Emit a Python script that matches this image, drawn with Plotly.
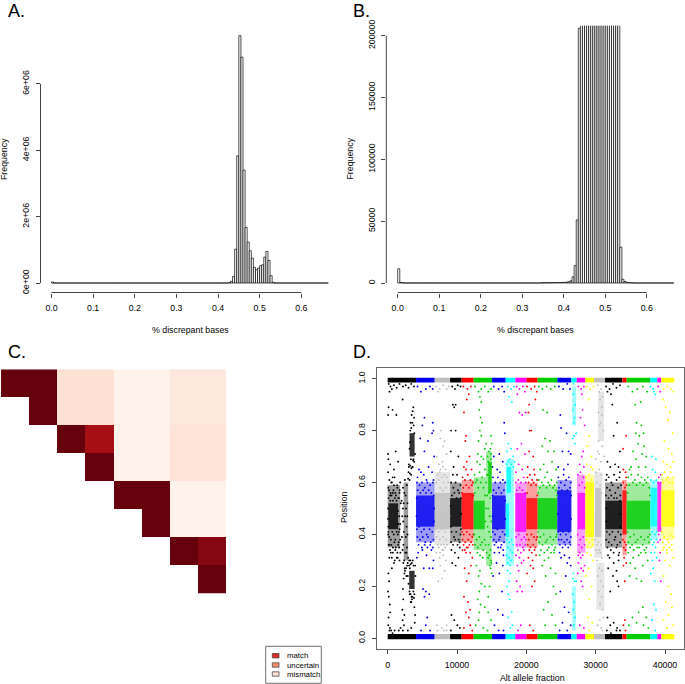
import plotly.graph_objects as go

# ---------- Panels A and B: histogram counts in bins of width 0.005 ----------
bin_width = 0.005
bin_centers = [round(0.0025 + i * bin_width, 4) for i in range(133)]
a_counts = [30000] + [0] * 84 + [
    10000, 50000, 200000, 1020000, 3830000, 7450000, 6800000, 3400000, 1670000,
    1230000, 970000, 750000, 470000, 400000, 450000, 520000, 550000, 780000,
    950000, 680000, 220000, 20000] + [0] * 26
b_counts = [11500, 500, 200] + [0] * 66 + [
    200, 200, 250, 250, 300, 300, 350, 350, 400, 400, 450, 500, 700, 1000,
    1800, 5000, 14000, 51000, 206000, 420000, 610000, 760000, 840000, 900000,
    830000, 720000, 640000, 590000, 560000, 530000, 540000, 560000, 610000,
    650000, 640000, 560000, 460000, 390000, 29000, 3000, 1200, 600, 300, 200,
    100] + [0] * 19
a_ticks = [0.0, 0.1, 0.2, 0.3, 0.4, 0.5, 0.6]
a_yticks = [0, 2000000, 4000000, 6000000]
a_ylabels = ["0e+00", "2e+06", "4e+06", "6e+06"]
b_yticks = [0, 50000, 100000, 150000, 200000]
b_ylabels = ["0", "50000", "100000", "150000", "200000"]

# ---------- Panel C ----------
c_matrix = [
    [1, 1, .12, .12, .02, .02, .08, .08],
    [None, 1, .12, .12, .02, .02, .08, .08],
    [None, None, 1, .875, .02, .02, .11, .11],
    [None, None, None, 1, .02, .02, .11, .11],
    [None, None, None, None, 1, 1, .02, .02],
    [None, None, None, None, None, 1, .02, .02],
    [None, None, None, None, None, None, 1, .94],
    [None, None, None, None, None, None, None, 1],
]
c_colors = ["#fff5f0", "#fee0d2", "#fcbba1", "#fc9272", "#fb6a4a", "#ef3b2c",
            "#cb181d", "#a50f15", "#67000d"]
legend_names = ["match", "uncertain", "mismatch"]
legend_colors = ["#de2d26", "#fc9272", "#fee0d2"]

# ---------- Panel D ----------
seg_start = [0, 4090, 6780, 9000, 10670, 12400, 15050, 17020, 18410, 20000, 21630, 24470,
             26490, 27260, 28510, 29760, 31350, 33850, 34470, 37890, 38900, 39470]
seg_end = [4090, 6780, 9000, 10670, 12400, 15050, 17020, 18410, 20000, 21630, 24470, 26490,
           27260, 28510, 29760, 31350, 33850, 34470, 37890, 38900, 39470, 41350]
seg_color = ["black", "blue", "gray", "black", "red", "green", "blue", "cyan", "magenta", "red", "green", "blue",
             "cyan", "magenta", "yellow", "gray", "black", "red", "green", "cyan", "magenta", "yellow"]

core_start = [100, 3150, 3100, 4090, 6780, 9000, 10670, 12400, 14500, 15050, 17020, 17150, 18410, 20000, 21630, 24470,
              27400, 28510, 29900, 31400, 33850, 34470, 37890, 38900, 39470]
core_end = [1500, 3880, 3880, 6780, 9000, 10670, 12400, 14000, 15000, 17020, 17500, 17800, 20000, 21630, 24470, 26490,
            28510, 29760, 30800, 33850, 34470, 37890, 38900, 39470, 41350]
core_lo = [.42, .70, .19, .43, .42, .43, .42, .42, .56, .42, .39, .56, .41, .42, .42, .41,
           .42, .39, .39, .42, .40, .42, .43, .41, .43]
core_hi = [.52, .79, .26, .55, .56, .54, .56, .53, .68, .55, .52, .66, .56, .54, .54, .57,
           .56, .60, .58, .53, .57, .53, .58, .60, .57]
core_color = ["black", "black", "black", "blue", "gray", "black", "red", "green", "green", "blue", "cyan", "cyan",
              "magenta", "red", "green", "blue", "magenta", "yellow", "gray", "black", "red", "green", "cyan", "magenta", "yellow"]

halo_start = [0, 2300, 4090, 6780, 9000, 10670, 12400, 14200, 15050, 17020, 18410, 20000, 21630, 24470,
              26620, 26620, 27300, 28510, 29800, 30350, 30100, 31350, 33850, 34470, 37890, 39470]
halo_end = [1800, 2950, 6780, 9000, 10670, 12400, 14200, 15000, 17020, 18200, 20000, 21630, 24470, 26490,
            27170, 27120, 28510, 29760, 30950, 31200, 31250, 33850, 34470, 37890, 38900, 41350]
halo_lo = [.35, .30, .37, .36, .37, .37, .34, .28, .37, .28, .35, .35, .36, .36,
           .82, .03, .33, .35, .31, .76, .11, .35, .32, .36, .38, .38]
halo_hi = [.59, .60, .60, .64, .60, .61, .62, .72, .60, .69, .60, .60, .59, .61,
           .97, .20, .63, .63, .64, .95, .29, .60, .61, .60, .61, .62]
halo_color = ["black", "black", "blue", "gray", "black", "red", "green", "green", "blue", "cyan", "magenta", "red", "green", "blue",
              "cyan", "cyan", "magenta", "yellow", "gray", "gray", "gray", "black", "red", "green", "cyan", "yellow"]

black_pts = [
 (60,.86),(130,.89),(700,.88),(1250,.86),(2150,.92),(60,.71),(100,.69),(50,.64),(350,.67),(900,.65),(1500,.68),
 (1150,.72),(720,.62),(3700,.89),(3600,.875),(3450,.86),(3800,.85),(3300,.83),(3550,.83),(3750,.82),(3250,.8),
 (3400,.81),(3850,.79),(3200,.755),(3150,.73),(3050,.67),(3240,.665),(3420,.655),(3600,.66),(3000,.64),(3200,.635),
 (3380,.63),(2950,.615),(3150,.61),(3820,.68),(3660,.685),(3950,.71),(2000,.53),(2850,.52),(2100,.47),(2050,.39),
 (2150,.34),(2700,.33),(2950,.31),(2250,.29),(2800,.28),(2450,.27),(3100,.3),(3300,.285),(3200,.27),(2500,.26),
 (2900,.24),(3000,.21),(3150,.18),(3300,.17),(3450,.16),(3500,.15),(3700,.18),(3850,.17),(3950,.28),(4000,.24),
 (3400,.14),(3600,.3),(2300,.23),(2200,.19),(2250,.15),(2100,.11),(2400,.09),(2150,.07),(2350,.05),(2200,.03),
 (100,.25),(200,.22),(50,.18),(300,.13),(160,.16),(350,.1),(120,.08),(80,.05),(320,.04),(260,.03),(500,.03),(700,.02),
 (1000,.03),(1600,.03),(1850,.04),(2900,.03),(3400,.04),(3900,.06),(3950,.09),(3850,.12),
 (1300,.31),(900,.29),(600,.27),(450,.33),(1700,.3),(1100,.34),(1500,.36),(250,.36),(750,.35),(1800,.38),(100,.41),
 (1600,.41),(1700,.56),(1400,.58),(900,.59),(500,.6),(200,.57),(1100,.56),(1800,.6),(350,.55),(1600,.54),(750,.56),
 (150,.98),(400,.97),(600,.96),(900,.975),(1300,.965),(1700,.98),(2200,.97),(2600,.975),(3000,.965),(3400,.98),(3800,.97),(250,.95),
 (80,.58),(240,.61),(420,.56),(610,.6),(830,.57),(990,.62),(1180,.55),(1360,.59),(1540,.54),(1720,.57),(1880,.52),(130,.54),
 (370,.53),(560,.55),(760,.53),(1030,.54),(1270,.53),(1490,.49),(1650,.47),(1810,.44),(60,.5),(50,.46),(90,.43),(1520,.44),
 (1700,.42),(1460,.4),(70,.4),(210,.39),(450,.38),(660,.41),(880,.4),(1090,.38),(1280,.41),(1570,.37),(140,.36),(330,.34),
 (520,.36),(740,.33),(950,.37),(1170,.35),(1390,.33),(1650,.35),(1820,.33),(230,.31),(600,.31),(1010,.3),(1450,.31),
 (2210,.58),(2480,.61),(2760,.59),(2300,.52),(2580,.55),(2820,.47),(2240,.45),(2520,.47),(2720,.43),(2330,.41),(2610,.39),
 (2850,.4),(2260,.36),(2540,.33),(2790,.35),(2380,.3),(2650,.27),(2880,.29),(2420,.25),(2700,.24),(2400,.56),(2650,.5),(2200,.5),
 (3080,.28),(3260,.3),(3480,.29),(3720,.28),(3180,.17),(3570,.16),(3790,.155),(3330,.14),(3050,.66),(3350,.69),(3720,.69),(3550,.66),
 (9300,.97),(9700,.96),(10100,.975),(10500,.97),(9400,.9),(9600,.89),(9800,.9),(9800,.8),(9150,.8),(9200,.09),(9600,.07),(10050,.05),
 (9100,.72),(9500,.66),(10200,.7),(10000,.63),(9400,.63),(9200,.34),(9700,.33),(10200,.31),(9300,.29),(10400,.35),(9800,.28),(10400,.04),(9100,.03),
 (9150,.6),(9480,.58),(9790,.6),(10130,.57),(10490,.59),(9260,.55),(9620,.56),(9950,.54),(10300,.56),(10560,.54),(9090,.51),(10590,.48),
 (9120,.43),(10560,.42),(9220,.41),(9560,.39),(9880,.41),(10240,.38),(10500,.4),(9130,.37),(9430,.36),(9740,.38),(10080,.36),(10380,.37),
 (31500,.97),(32000,.96),(32500,.98),(33000,.965),(33500,.975),(31700,.95),(32200,.94),(32400,.9),(33100,.83),(32600,.78),(33500,.72),(31700,.68),
 (32100,.66),(32800,.67),(33300,.66),(31600,.63),(33500,.64),(32000,.31),(32600,.29),(33300,.3),(31800,.27),(33000,.26),(32500,.24),(33100,.22),
 (33300,.2),(32100,.18),(31700,.08),(32100,.05),(32600,.06),(33100,.04),(33500,.03),(31600,.03),(32200,.02),(33000,.03),
 (31520,.61),(31880,.62),(32260,.6),(32640,.63),(33020,.61),(33420,.62),(33660,.59),(31640,.58),(32040,.57),(32440,.59),(32830,.56),(33230,.58),
 (33560,.55),(31480,.55),(31850,.54),(32250,.55),(32650,.54),(33050,.54),(33500,.53),(31550,.5),(33450,.48),(31520,.45),(33540,.43),(31620,.41),
 (32010,.4),(32420,.41),(32850,.39),(33250,.41),(33620,.4),(31530,.38),(31900,.37),(32310,.36),(32720,.38),(33130,.36),(33520,.37),(31690,.35),
 (32180,.34),(32590,.33),(33000,.35),(33410,.33),(31780,.32),(33300,.32),
]
blue_pts = [
 (4300,.97),(4800,.95),(5500,.96),(6100,.97),(6500,.96),(5300,.85),(5000,.82),(6500,.83),(6600,.8),(4700,.77),(5300,.72),(5800,.76),
 (6400,.79),(6700,.7),(4500,.65),(4800,.64),(5200,.63),(5900,.66),(6400,.64),(4300,.62),(5600,.61),(6600,.61),(4400,.33),(5000,.34),
 (5600,.32),(6300,.34),(6600,.3),(6500,.27),(5200,.27),(6000,.27),(4200,.31),(5100,.19),(5500,.18),(5300,.16),(6000,.17),(5700,.08),(5500,.05),(6100,.03),(4800,.03),
 (4220,.6),(4580,.59),(4950,.6),(5340,.58),(5720,.6),(6110,.59),(6520,.6),(4330,.57),(4720,.56),(5120,.57),(5510,.56),(5900,.57),(6280,.56),(6650,.55),
 (4180,.54),(6690,.5),(4160,.47),(6680,.45),(4210,.42),(4500,.43),(4870,.41),(5240,.42),(5630,.4),(6030,.42),(6430,.41),(4290,.39),(4650,.38),(5060,.39),
 (5420,.37),(5810,.39),(6220,.37),(6590,.38),(4460,.36),(4930,.35),(5330,.36),(5720,.35),(6130,.36),(6500,.35),
 (15300,.97),(16000,.96),(16500,.97),(16800,.95),(16800,.83),(16900,.79),(15300,.7),(16100,.71),(15800,.65),(16600,.68),(16200,.64),(15100,.66),
 (15400,.33),(16100,.33),(16700,.32),(15700,.29),(16600,.28),(15200,.24),(16100,.25),(16500,.18),(15900,.11),(16600,.09),(15400,.05),(16700,.03),(16000,.03),
 (15180,.62),(15520,.6),(15890,.62),(16240,.6),(16610,.61),(16930,.6),(15280,.57),(15640,.56),(16020,.58),(16390,.56),(16760,.57),(15120,.55),(16950,.53),
 (15130,.47),(16960,.46),(15160,.41),(15480,.4),(15830,.42),(16190,.39),(16570,.41),(16900,.4),(15290,.38),(15660,.37),(16050,.38),(16410,.36),(16780,.37),
 (15400,.36),(15930,.35),(16290,.35),(16660,.34),
 (24700,.97),(25300,.96),(25900,.98),(26300,.96),(24900,.86),(25000,.81),(25800,.79),(26100,.72),(26400,.71),(25200,.72),(24600,.66),(25400,.65),(26000,.67),
 (24800,.33),(25500,.32),(26200,.31),(25000,.31),(25900,.29),(26400,.28),(25700,.24),(24900,.18),(25500,.12),(26100,.1),(25200,.06),(26400,.05),(24800,.03),(25900,.03),
 (24610,.62),(24980,.6),(25370,.63),(25740,.61),(26120,.62),(26430,.6),(24710,.58),(25120,.57),(25530,.59),(25910,.57),(26310,.58),(24560,.56),(26460,.55),
 (24530,.48),(26440,.46),(24590,.41),(24920,.4),(25300,.41),(25710,.4),(26100,.41),(26420,.39),(24680,.38),(25070,.38),(25480,.37),(25860,.38),(26250,.37),
 (24830,.36),(25220,.35),(25620,.36),(26040,.35),(26360,.36),
]
gray_pts = [
 (7000,.97),(7500,.96),(8000,.975),(8500,.96),(8800,.97),(7300,.95),(7700,.8),(8000,.74),(7600,.77),(8200,.76),(7100,.7),(8500,.71),(7900,.68),(7400,.67),
 (7000,.33),(7500,.31),(8000,.32),(8400,.3),(7600,.28),(8200,.26),(7800,.23),(7300,.22),(8500,.05),(7100,.05),(7800,.04),(8100,.03),(8500,.03),(7200,.03),
 (7620,.65),(7980,.66),(8340,.65),(7210,.63),(7500,.64),(7830,.62),(8190,.63),(8560,.62),(7000,.6),(7360,.61),(8040,.6),(8720,.6),(7560,.58),(7950,.57),
 (8400,.58),(6910,.55),(8900,.54),(6880,.48),(8920,.47),(6930,.42),(7350,.41),(7810,.42),(8260,.41),(8720,.43),(7060,.39),(7520,.38),(7970,.39),(8440,.38),
 (7220,.36),(7700,.36),(8120,.36),(8580,.36),(7390,.35),(7880,.34),(8280,.35),(7560,.33),(8020,.34),
 (30300,.975),(30800,.96),(31000,.93),(30500,.95),(30900,.89),(30400,.87),(30700,.83),(31100,.8),(30300,.72),(30500,.71),(31200,.7),(30000,.69),(30100,.34),
 (30300,.33),(30700,.33),(30900,.31),(31100,.08),(30600,.07),(30300,.05),(30800,.04),(31000,.03),(30620,.92),(30880,.86),(30530,.82),(30420,.76),(30980,.74),
 (30750,.68),(30060,.64),(30500,.65),(30850,.63),(30200,.6),(30640,.59),(30860,.56),(29950,.38),(30380,.37),(30790,.36),(30160,.36),(30530,.34),(30220,.3),
 (30540,.27),(30930,.26),(30300,.24),(30750,.22),(31080,.2),(30450,.18),(30880,.16),(30620,.13),(31000,.11),
]
red_pts = [
 (10900,.97),(11500,.96),(12000,.97),(11700,.94),(11400,.92),(11000,.87),(11300,.78),(11200,.76),(11400,.68),(11800,.7),(11000,.66),(11300,.65),(12100,.65),
 (10800,.34),(11300,.33),(11900,.33),(12200,.31),(11100,.27),(11700,.25),(12000,.28),(11400,.22),(11000,.16),(11600,.14),(11900,.11),(11300,.1),(11700,.08),
 (11900,.05),(11000,.04),(12200,.03),(10800,.62),(11140,.61),(11560,.63),(11930,.61),(12280,.6),(10900,.58),(11320,.59),(11700,.58),(12120,.59),(10720,.56),
 (12360,.55),(10710,.41),(12350,.4),(10970,.4),(11400,.41),(11820,.4),(12200,.39),(10800,.38),(11190,.37),(11610,.38),(12030,.37),(10950,.36),(11380,.35),
 (11780,.36),(12270,.36),(11130,.34),(11560,.35),
 (20100,.97),(20700,.96),(21200,.97),(21500,.95),(21300,.92),(20400,.9),(20300,.87),(20500,.8),(20700,.8),(20400,.72),(21000,.7),(20200,.66),(21100,.65),
 (20300,.31),(20900,.3),(21400,.32),(20600,.28),(21000,.27),(20100,.25),(20800,.2),(21200,.22),(20500,.05),(21000,.03),(20150,.62),(20500,.63),(20840,.61),
 (21210,.63),(21530,.61),(20320,.6),(20680,.59),(21050,.6),(21400,.59),(20120,.56),(21580,.55),(20080,.4),(21570,.39),(20360,.38),(20730,.4),(21110,.39),
 (21440,.38),(20210,.36),(20590,.35),(20980,.36),(21300,.35),(20430,.34),(20790,.33),(21180,.34),
 (33950,.73),(34300,.64),(34000,.65),(34400,.62),(34100,.31),(34400,.29),(34000,.28),(34200,.22),(34400,.78),(34200,.07),(34000,.05),(34300,.03),
 (33980,.6),(34230,.58),(34420,.59),(33920,.38),(34180,.37),(34390,.36),(34050,.35),(34310,.34),
]
green_pts = [
 (12600,.97),(13100,.95),(13500,.96),(14000,.97),(14500,.95),(14900,.96),(13300,.93),(13500,.91),(13200,.88),(13400,.85),(13600,.83),(13300,.8),(13500,.78),
 (13100,.76),(14900,.78),(15000,.75),(14800,.73),(14200,.75),(13000,.71),(13500,.7),(14000,.73),(13300,.67),(12900,.68),(13800,.69),(14400,.7),(14900,.71),
 (12800,.28),(13300,.26),(13100,.24),(13500,.21),(13200,.18),(13000,.15),(13400,.13),(13200,.1),(14000,.12),(14500,.1),(14900,.07),(13100,.07),(12700,.05),
 (13800,.04),(14400,.03),(15000,.25),(14700,.2),(14000,.2),(14500,.16),(12520,.63),(12870,.61),(13240,.64),(13620,.62),(14020,.65),(14310,.63),(12680,.6),
 (13050,.58),(13430,.6),(13810,.58),(14180,.6),(12560,.56),(14040,.55),(14350,.55),(14500,.5),(14700,.47),(14950,.45),(14800,.54),(14600,.56),(14200,.5),
 (14100,.45),(14400,.43),(14640,.41),(14880,.39),(12480,.4),(12830,.38),(13210,.39),(13600,.37),(13980,.38),(12610,.36),(13000,.35),(13390,.36),(13780,.34),
 (14150,.36),(12940,.33),(13320,.32),(13700,.31),(14250,.33),(14560,.36),(14820,.34),(14670,.32),(14900,.3),(14720,.28),(14950,.29),(14500,.31),(14830,.27),
 (14620,.72),(14880,.69),(14700,.67),(14950,.66),(14500,.68),(14430,.63),
 (21800,.97),(22300,.96),(22900,.97),(23500,.96),(24100,.97),(22400,.88),(23000,.87),(22700,.77),(23400,.76),(22300,.74),(23100,.72),(24000,.72),(23700,.68),
 (22000,.65),(22500,.67),(23000,.64),(24300,.65),(21900,.32),(22600,.3),(23200,.31),(24000,.33),(22300,.28),(23500,.27),(24200,.25),(22800,.24),(23900,.2),
 (24300,.17),(23100,.14),(22500,.11),(23700,.09),(24200,.05),(22700,.05),(21800,.61),(22230,.6),(22690,.62),(23150,.6),(23610,.61),(24070,.59),(24380,.6),
 (21960,.58),(22450,.59),(22910,.58),(23380,.59),(23840,.58),(24270,.57),(21720,.56),(24420,.55),(21680,.41),(24400,.4),(22010,.39),(22500,.4),(22980,.38),
 (23460,.39),(23920,.38),(24310,.39),(21850,.37),(22320,.36),(22780,.37),(23250,.35),(23700,.36),(24170,.35),(22100,.34),(22600,.33),(23050,.34),(23560,.33),(24000,.34),
 (34700,.97),(35300,.95),(36000,.96),(36800,.97),(37400,.95),(35700,.9),(36500,.91),(35900,.83),(35800,.79),(36300,.78),(36600,.82),(36900,.79),(36100,.75),
 (37000,.74),(36700,.71),(37300,.7),(35400,.72),(35800,.69),(37200,.66),(35100,.66),(34900,.65),(36200,.66),(34700,.33),(35400,.31),(36200,.32),(37200,.33),
 (35000,.29),(35700,.27),(36800,.28),(37500,.3),(34900,.24),(35900,.23),(36600,.22),(36200,.1),(36800,.12),(37300,.08),(35300,.08),(35900,.06),(36900,.05),(37600,.04),(34800,.05),
 (34680,.62),(35140,.63),(35650,.61),(36120,.63),(36610,.62),(37080,.61),(37520,.62),(34850,.59),(35370,.6),(35890,.59),(36370,.6),(36860,.59),(37320,.6),(37720,.58),
 (34620,.56),(37820,.55),(34590,.41),(37810,.4),(34980,.39),(35520,.4),(36040,.38),(36540,.39),(37050,.38),(37540,.39),(34730,.37),(35250,.36),(35770,.37),(36290,.35),
 (36800,.36),(37300,.35),(37700,.37),(34960,.35),(35480,.34),(36000,.35),(36520,.33),(37030,.34),
]
cyan_pts = [
 (17300,.97),(17800,.96),(18200,.97),(17500,.93),(17900,.91),(17400,.75),(17200,.72),(17800,.73),(18100,.7),(17600,.69),(18300,.68),
 (17300,.26),(17700,.25),(17500,.22),(17200,.2),(17400,.17),(17600,.15),(17900,.1),(17400,.08),(18000,.05),(17700,.04),(17130,.67),(17460,.68),(17820,.67),(18130,.66),
 (17220,.38),(17540,.37),(17860,.38),(18090,.36),(17350,.35),(17680,.34),(18000,.33),(17180,.32),(17500,.31),(17810,.3),(17300,.29),(17640,.28),
 (26800,.98),(27000,.75),(26700,.77),(26850,.78),(27200,.79),(26700,.23),(26800,.25),(26950,.22),(27200,.22),(26780,.94),(27050,.9),(26720,.88),(26950,.85),(26820,.83),
 (26680,.17),(26900,.14),(26770,.11),(27040,.08),(26840,.05),
 (37900,.97),(38300,.96),(38600,.94),(38400,.95),(38100,.7),(38700,.69),(38200,.65),(38600,.64),(38000,.33),(38500,.33),(38200,.3),(38800,.31),
 (38300,.27),(37950,.25),(38500,.22),(38700,.11),(38400,.13),(38100,.07),(38600,.03),(37960,.61),(38350,.6),(38760,.61),(38120,.41),(38560,.4),(38830,.41),(38000,.38),
 (38410,.37),(38780,.38),(38200,.36),(38620,.35),
]
magenta_pts = [
 (18600,.97),(19000,.96),(19500,.97),(19800,.95),(18700,.94),(19000,.87),(19900,.87),(19400,.86),(18700,.73),(19300,.75),(19800,.71),(18900,.67),(19400,.65),(18500,.64),
 (18500,.32),(19000,.31),(19600,.3),(18700,.28),(19300,.29),(18900,.26),(18600,.22),(19100,.2),(19400,.18),(18700,.18),(19200,.05),(18800,.03),(18490,.6),(18840,.61),
 (19230,.6),(19620,.62),(19920,.6),(18620,.57),(19020,.58),(19440,.57),(19810,.56),(18520,.39),(18880,.4),(19290,.38),(19690,.39),(19950,.38),(18650,.36),(19080,.36),
 (19500,.35),(19860,.36),(18770,.34),(19210,.33),(19640,.34),
 (27500,.97),(27900,.96),(28300,.97),(28000,.94),(28100,.88),(27800,.85),(28400,.82),(28200,.72),(27700,.67),(28300,.66),(28000,.7),
 (27500,.29),(27900,.27),(28200,.26),(28400,.28),(27400,.25),(27900,.22),(28100,.2),(27700,.05),(28300,.04),(27450,.63),(27820,.64),(28230,.62),(27630,.59),(28060,.6),
 (28420,.58),(27420,.4),(27790,.38),(28210,.39),(27590,.36),(28000,.35),(28400,.36),(27680,.33),(28120,.32),(27500,.32),(27850,.31),
 (39000,.97),(39300,.95),(39400,.63),(39100,.62),(39300,.38),(39000,.37),(39300,.33),(39400,.22),(39200,.3),(39000,.6),(39360,.6),(39100,.4),
]
yellow_pts = [
 (28700,.97),(29200,.96),(29700,.97),(29000,.92),(29100,.78),(28800,.74),(29400,.7),(28700,.67),(29300,.66),(29600,.65),
 (28800,.33),(29300,.32),(29600,.3),(29000,.27),(28600,.24),(29400,.2),(29100,.15),(28900,.08),(29500,.06),(29100,.03),(28620,.62),(29020,.63),(29430,.61),(28800,.6),
 (29250,.6),(29680,.59),(28680,.38),(29100,.37),(29520,.38),(28830,.35),(29260,.35),(29640,.36),
 (39800,.96),(40300,.97),(40900,.96),(41200,.95),(39700,.92),(40100,.89),(40700,.87),(40400,.84),(41100,.79),(39900,.76),(40500,.73),(41000,.71),
 (39800,.68),(40300,.67),(40800,.66),(41200,.68),(39700,.34),(40300,.33),(41000,.34),(40000,.3),(40700,.28),(41200,.31),(39800,.24),(40500,.2),
 (40900,.17),(40100,.14),(41000,.12),(40500,.09),(39800,.07),(41200,.05),(40300,.04),(39580,.63),(39960,.64),(40410,.62),(40830,.64),(41240,.62),(39740,.6),
 (40180,.61),(40620,.6),(41060,.6),(39550,.41),(39920,.39),(40370,.38),(40790,.4),(41210,.39),(39680,.37),(40110,.36),(40550,.37),(41000,.36),(39820,.35),(40260,.34),(40680,.35),
]
point_groups = {"black": black_pts, "blue": blue_pts, "gray": gray_pts, "red": red_pts,
                "green": green_pts, "cyan": cyan_pts, "magenta": magenta_pts, "yellow": yellow_pts}
css_colors = {"black": "#000000", "blue": "#0000ee", "gray": "#bebebe", "red": "#ff0000",
              "green": "#00cd00", "cyan": "#00ffff", "magenta": "#ff00ff", "yellow": "#ffff00"}
d_xticks = [0, 10000, 20000, 30000, 40000]
d_yticks = [0.0, 0.2, 0.4, 0.6, 0.8, 1.0]

W, H = 685, 684
FONT = "Liberation Sans, Arial, sans-serif"
def PX(p): return p / W
def PY(p): return 1 - p / H

fig = go.Figure()
fig.add_trace(go.Bar(x=bin_centers, y=a_counts, width=bin_width, xaxis="x", yaxis="y",
                     marker=dict(color="white", line=dict(color="black", width=0.7)), showlegend=False))
fig.add_trace(go.Bar(x=bin_centers, y=b_counts, width=bin_width, xaxis="x2", yaxis="y2",
                     marker=dict(color="white", line=dict(color="black", width=0.7)), showlegend=False))
fig.add_trace(go.Heatmap(z=c_matrix, xaxis="x3", yaxis="y3", zmin=0, zmax=1, showscale=False,
                         colorscale=[[i / 8, c] for i, c in enumerate(c_colors)]))

def band(starts, ends, lows, highs, colors, opacity):
    fig.add_trace(go.Bar(
        x=[(s + e) / 2 for s, e in zip(starts, ends)], width=[e - s for s, e in zip(starts, ends)],
        base=lows, y=[h - l for l, h in zip(lows, highs)], xaxis="x4", yaxis="y4", opacity=opacity,
        marker=dict(color=[css_colors[c] for c in colors], line=dict(width=0)), showlegend=False))

band(halo_start, halo_end, halo_lo, halo_hi, halo_color, 0.38)
band(core_start, core_end, core_lo, core_hi, core_color, 0.8)
n = len(seg_start)
band(seg_start, seg_end, [.985] * n, [1.004] * n, seg_color, 1)
band(seg_start, seg_end, [-.004] * n, [.017] * n, seg_color, 1)
for name, pts in point_groups.items():
    fig.add_trace(go.Scatter(x=[p[0] for p in pts], y=[p[1] for p in pts], mode="markers", xaxis="x4", yaxis="y4",
                             marker=dict(color=css_colors[name], size=1.9, line=dict(width=0)), showlegend=False))

tickfont = dict(family=FONT, size=8.8, color="black")
axc = "#444444"
def xax(dom, rng, anchor, ticks, text=None, **kw):
    d = dict(domain=[PX(dom[0]), PX(dom[1])], range=rng, anchor=anchor, tickmode="array", tickvals=ticks,
             ticktext=text or [str(t) for t in ticks], ticks="outside", ticklen=4, tickwidth=0.8, tickcolor=axc,
             showgrid=False, zeroline=False, showline=False, tickfont=tickfont, ticklabelstandoff=3, automargin=False)
    d.update(kw); return d
def yax(dom, rng, anchor, ticks, text, **kw):
    d = dict(domain=[PY(dom[1]), PY(dom[0])], range=rng, anchor=anchor, tickmode="array", tickvals=ticks,
             ticktext=text, ticks="outside", ticklen=4, tickwidth=0.8, tickcolor=axc, tickangle=-90,
             showgrid=False, zeroline=False, showline=False, tickfont=tickfont, ticklabelstandoff=3, automargin=False)
    d.update(kw); return d

x_labels = ["%.1f" % t for t in a_ticks]
layout = dict(
    width=W, height=H, margin=dict(l=0, r=0, t=0, b=0, pad=0), paper_bgcolor="white", plot_bgcolor="white",
    barmode="overlay", autosize=False,
    xaxis=xax((40.5, 335), [-0.0264, 0.681], "y", a_ticks, x_labels),
    yaxis=yax((20, 292.5), [-286000, 7920000], "x", a_yticks, a_ylabels),
    xaxis2=xax((386.3, 680), [-0.0275, 0.68], "y2", a_ticks, x_labels),
    yaxis2=yax((25.7, 292.5), [-7683, 208090], "x2", b_yticks, b_ylabels),
    xaxis3=dict(domain=[PX(1), PX(226)], range=[-.5, 7.5], anchor="y3", visible=False, automargin=False),
    yaxis3=dict(domain=[PY(593.7), PY(369.3)], range=[7.5, -.5], anchor="x3", visible=False, automargin=False),
    xaxis4=xax((376.7, 684.3), [-1587, 42784], "y4", d_xticks, [str(t) for t in d_xticks],
               showline=True, mirror=True, linecolor="#666666", linewidth=1),
    yaxis4=yax((368.3, 649), [-.0412, 1.04], "x4", d_yticks, ["%.1f" % t for t in d_yticks],
               showline=True, mirror=True, linecolor="#666666", linewidth=1),
)

shapes = []
ann = []
def axis_seg(**kw):
    shapes.append(dict(type="line", line=dict(color=axc, width=1), **kw))
axis_seg(xref="x", yref="paper", x0=0, x1=.6, y0=PY(292.5), y1=PY(292.5))
axis_seg(xref="paper", yref="y", x0=PX(40.5), x1=PX(40.5), y0=0, y1=6000000)
axis_seg(xref="x2", yref="paper", x0=0, x1=.6, y0=PY(292.5), y1=PY(292.5))
axis_seg(xref="paper", yref="y2", x0=PX(386.3), x1=PX(386.3), y0=0, y1=200000)

def text(t, px, py, size=8.8, angle=0, xanchor="center"):
    ann.append(dict(text=t, x=PX(px), y=PY(py), xref="paper", yref="paper", showarrow=False, xanchor=xanchor,
                    yanchor="middle", textangle=angle, font=dict(family=FONT, size=size, color="black")))
text("A.", 6, 11, 18, xanchor="left")
text("B.", 351, 11, 18, xanchor="left")
text("C.", 6, 352, 18, xanchor="left")
text("D.", 351, 352, 18, xanchor="left")
text("% discrepant bases", 190, 330)
text("% discrepant bases", 535.5, 330)
text("Frequency", 4, 159, angle=-90)
text("Frequency", 349.5, 159, angle=-90)
text("Alt allele fraction", 532, 677.5)
text("Position", 344, 508, angle=-90)

shapes.append(dict(type="rect", xref="paper", yref="paper", x0=PX(265.7), x1=PX(321.3), y0=PY(646.3), y1=PY(683.3),
                   line=dict(color="#707070", width=1), fillcolor="white"))
for name, col, yc in zip(legend_names, legend_colors, [655.7, 665, 674]):
    shapes.append(dict(type="rect", xref="paper", yref="paper", x0=PX(272.3), x1=PX(279), y0=PY(yc + 2.2), y1=PY(yc - 2.2),
                       line=dict(color="#333333", width=0.7), fillcolor=col))
    text(name, 285, yc, 7.8, xanchor="left")

layout["shapes"] = shapes
layout["annotations"] = ann
fig.update_layout(**layout)
fig.write_html("out.html", config={"displayModeBar": False},
               post_script="document.body.style.margin='0';document.documentElement.style.overflow='hidden';")
